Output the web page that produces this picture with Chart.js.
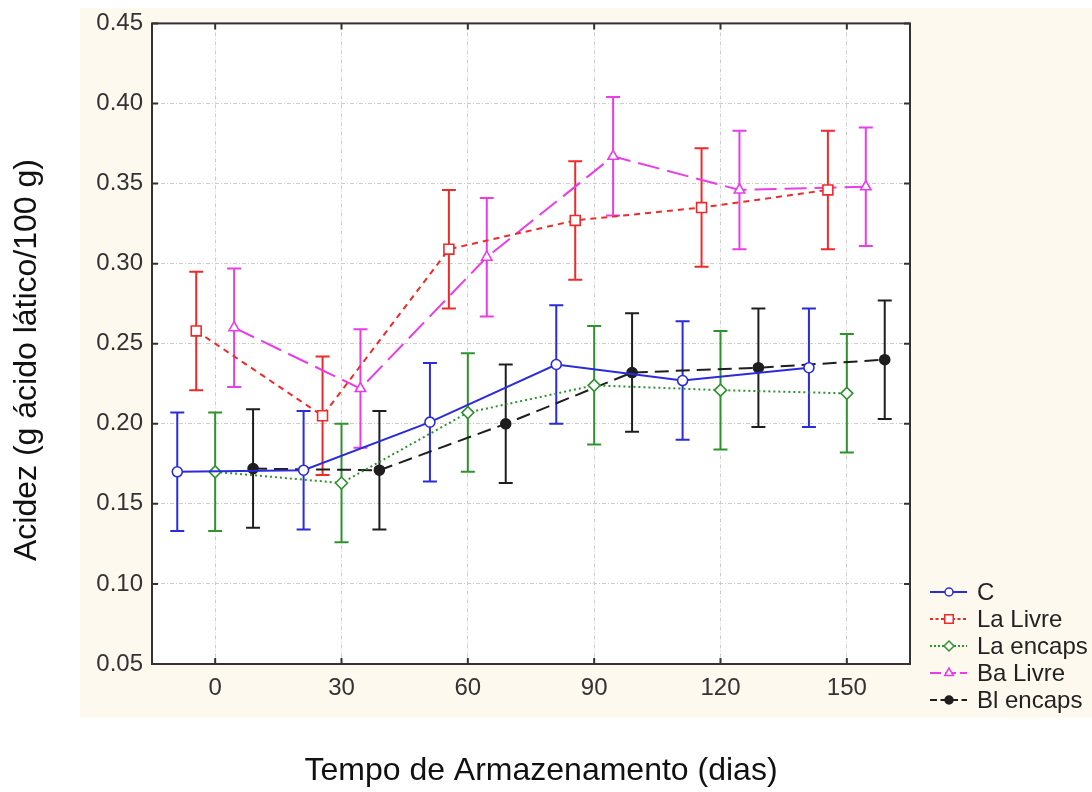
<!DOCTYPE html>
<html>
<head>
<meta charset="utf-8">
<script src="https://cdn.jsdelivr.net/npm/chart.js@4"></script>
<style>
  html, body { margin: 0; padding: 0; background: #fff; }
  #wrap { width: 1092px; height: 792px; }
</style>
</head>
<body>
<div id="wrap"><canvas id="acidChart" width="1092" height="792"></canvas></div>
<script>
// storage days and acidity (g lactic acid / 100 g), mean and half error bar
const days = [0, 30, 60, 90, 120, 150];
const yTicks = [0.05, 0.10, 0.15, 0.20, 0.25, 0.30, 0.35, 0.40, 0.45];

const cMean = [0.170, 0.171, 0.201, 0.237, 0.227, 0.235];
const cErr = [0.037, 0.037, 0.037, 0.037, 0.037, 0.037];

const laLivreMean = [0.258, 0.205, 0.309, 0.327, 0.335, 0.346];
const laLivreErr = [0.037, 0.037, 0.037, 0.037, 0.037, 0.037];

const laEncapsMean = [0.170, 0.163, 0.207, 0.224, 0.221, 0.219];
const laEncapsErr = [0.037, 0.037, 0.037, 0.037, 0.037, 0.037];

const baLivreMean = [0.260, 0.222, 0.304, 0.367, 0.346, 0.348];
const baLivreErr = [0.037, 0.037, 0.037, 0.037, 0.037, 0.037];

const blEncapsMean = [0.172, 0.171, 0.200, 0.232, 0.235, 0.240];
const blEncapsErr = [0.037, 0.037, 0.037, 0.037, 0.037, 0.037];

const FONT = '"Liberation Sans", Arial, sans-serif';

// each group is spread sideways around its day so the bars don't overlap
function points(means, errs, shift) {
  return days.map((d, i) => ({ x: d + shift, y: means[i], err: errs[i] }));
}

function series(label, means, errs, shift, color, dash, style, radius, fill) {
  return {
    label: label,
    data: points(means, errs, shift),
    showLine: true,
    borderColor: color,
    borderWidth: 2,
    borderDash: dash,
    pointStyle: style,
    pointRadius: radius,
    pointBorderWidth: 1.6,
    pointBorderColor: color,
    pointBackgroundColor: fill,
    pointHoverRadius: radius
  };
}

const datasets = [
  series("C", cMean, cErr, -9, "#2b2bdb", [], "circle", 5, "#fff"),
  series("La Livre", laLivreMean, laLivreErr, -4.5, "#ee2a2a", [6, 5], "rect", 7, "#fff"),
  series("La encaps", laEncapsMean, laEncapsErr, 0, "#2f922f", [2, 3], "rectRot", 6, "#fff"),
  series("Ba Livre", baLivreMean, baLivreErr, 4.5, "#e83de8", [22, 8], "triangle", 6, "#fff"),
  series("Bl encaps", blEncapsMean, blEncapsErr, 9, "#1e1e1e", [14, 7], "circle", 5, "#1e1e1e")
];

const decor = {
  id: "decor",
  beforeDraw(chart) {
    const { ctx, chartArea: a } = chart;
    ctx.save();
    ctx.fillStyle = "#fff";
    ctx.fillRect(0, 0, chart.width, chart.height);
    ctx.fillStyle = "#fdf9ee";
    ctx.fillRect(80, 8, chart.width - 80, 710);
    ctx.fillStyle = "#fff";
    ctx.fillRect(a.left, a.top, a.right - a.left, a.bottom - a.top);
    ctx.restore();
  },
  beforeDatasetsDraw(chart) {
    // error bars with caps
    const { ctx, scales } = chart;
    ctx.save();
    chart.data.datasets.forEach(ds => {
      ctx.strokeStyle = ds.borderColor;
      ctx.lineWidth = 2;
      ctx.setLineDash([]);
      ds.data.forEach(p => {
        const x = scales.x.getPixelForValue(p.x);
        const y1 = scales.y.getPixelForValue(p.y + p.err);
        const y2 = scales.y.getPixelForValue(p.y - p.err);
        ctx.beginPath();
        ctx.moveTo(x, y1); ctx.lineTo(x, y2);
        ctx.moveTo(x - 7, y1); ctx.lineTo(x + 7, y1);
        ctx.moveTo(x - 7, y2); ctx.lineTo(x + 7, y2);
        ctx.stroke();
      });
    });
    ctx.restore();
  },
  afterDraw(chart) {
    const { ctx, chartArea: a, scales } = chart;
    ctx.save();

    // frame and inward tick marks
    ctx.strokeStyle = "#333";
    ctx.lineWidth = 2;
    ctx.setLineDash([]);
    ctx.strokeRect(a.left, a.top, a.right - a.left, a.bottom - a.top);
    ctx.beginPath();
    days.forEach(d => {
      const x = scales.x.getPixelForValue(d);
      ctx.moveTo(x, a.bottom); ctx.lineTo(x, a.bottom - 6);
      ctx.moveTo(x, a.top); ctx.lineTo(x, a.top + 6);
    });
    yTicks.forEach(v => {
      const y = scales.y.getPixelForValue(v);
      ctx.moveTo(a.left, y); ctx.lineTo(a.left + 6, y);
      ctx.moveTo(a.right, y); ctx.lineTo(a.right - 6, y);
    });
    ctx.stroke();

    // legend, bottom right
    ctx.font = "24px " + FONT;
    ctx.textBaseline = "middle";
    ctx.textAlign = "left";
    chart.data.datasets.forEach((ds, i) => {
      const y = 592 + i * 27;
      ctx.strokeStyle = ds.borderColor;
      ctx.lineWidth = 2;
      ctx.setLineDash(ds.borderDash.length ? ds.borderDash.map(v => Math.max(2, v / 2)) : []);
      ctx.beginPath();
      ctx.moveTo(930, y); ctx.lineTo(967, y);
      ctx.stroke();
      ctx.setLineDash([]);
      ctx.fillStyle = ds.pointBackgroundColor;
      ctx.lineWidth = 1.5;
      Chart.helpers.drawPoint(ctx, {
        pointStyle: ds.pointStyle, radius: ds.pointRadius - 1, rotation: 0, borderWidth: 1.5
      }, 949, y);
      ctx.fillStyle = "#222";
      ctx.fillText(ds.label, 977, y + 1);
    });

    // axis titles
    ctx.fillStyle = "#111";
    ctx.font = "32px " + FONT;
    ctx.textAlign = "center";
    ctx.fillText("Tempo de Armazenamento (dias)", 541, 771);
    ctx.translate(27, 360);
    ctx.rotate(-Math.PI / 2);
    ctx.fillText("Acidez (g ácido lático/100 g)", 0, 0);
    ctx.restore();
  }
};

new Chart(document.getElementById("acidChart"), {
  type: "scatter",
  data: { datasets: datasets },
  options: {
    responsive: false,
    animation: false,
    devicePixelRatio: 1,
    layout: { padding: { top: 21, right: 182, bottom: 0, left: 0 } },
    plugins: {
      legend: { display: false },
      tooltip: { enabled: false }
    },
    scales: {
      x: {
        type: "linear",
        min: -15,
        max: 165,
        afterBuildTicks: axis => { axis.ticks = days.map(v => ({ value: v })); },
        afterFit: axis => { axis.height = 792 - 664; },
        grid: { color: "#cdcdcd", lineWidth: 1, drawTicks: false },
        border: { display: false, dash: [4, 2, 1, 2] },
        ticks: { padding: 10, color: "#333", font: { family: FONT, size: 24 } }
      },
      y: {
        min: 0.05,
        max: 0.45,
        afterBuildTicks: axis => { axis.ticks = yTicks.map(v => ({ value: v })); },
        afterFit: axis => { axis.width = 152; },
        grid: { color: "#cdcdcd", lineWidth: 1, drawTicks: false },
        border: { display: false, dash: [4, 2, 1, 2] },
        ticks: {
          padding: 9,
          color: "#333",
          font: { family: FONT, size: 24 },
          callback: v => v.toFixed(2)
        }
      }
    }
  },
  plugins: [decor]
});
</script>
</body>
</html>
